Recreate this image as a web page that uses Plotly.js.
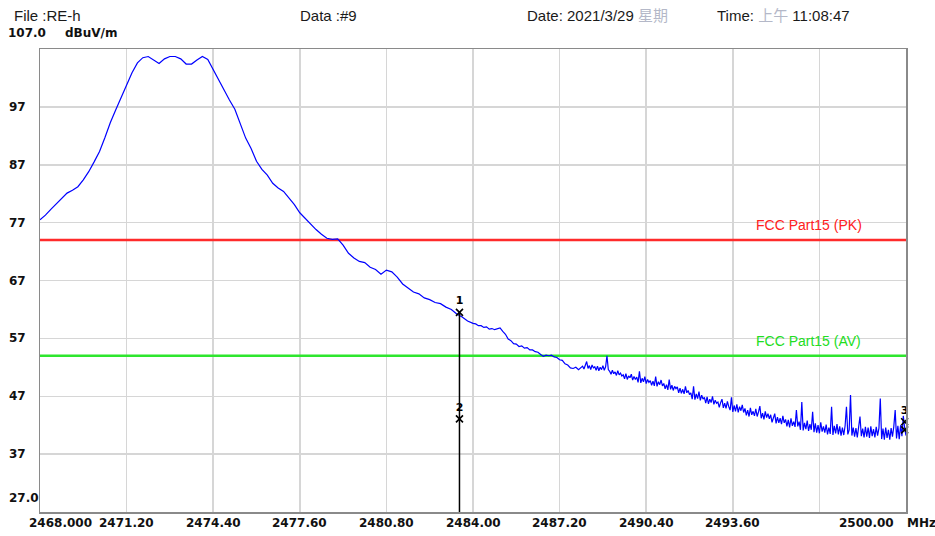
<!DOCTYPE html>
<html>
<head>
<meta charset="utf-8">
<script src="https://cdn.plot.ly/plotly-3.0.1.min.js"></script>
<style>html,body{margin:0;padding:0;background:#fff;}#chart{width:935px;height:536px;}</style>
</head>
<body>
<div id="chart"></div>
<script>
// ---- data ----
const freqMHz = [
2468.0,2468.2,2468.4,2468.6,2468.8,2469.0,2469.2,2469.4,2469.6,2469.8,
2470.0,2470.2,2470.4,2470.6,2470.8,2471.0,2471.2,2471.4,2471.6,2471.8,
2472.0,2472.2,2472.4,2472.6,2472.8,2473.0,2473.2,2473.4,2473.6,2473.8,
2474.0,2474.2,2474.4,2474.6,2474.8,2475.0,2475.2,2475.4,2475.6,2475.8,
2476.0,2476.2,2476.4,2476.6,2476.8,2477.0,2477.2,2477.4,2477.6,2477.8,
2478.0,2478.2,2478.4,2478.6,2478.8,2479.0,2479.2,2479.4,2479.6,2479.8,
2480.0,2480.2,2480.4,2480.6,2480.8,2481.0,2481.2,2481.4,2481.6,2481.8,
2482.0,2482.2,2482.4,2482.6,2482.8,2483.0,2483.2,2483.4,2483.6,2483.8,
2484.0,
2484.1,2484.2,2484.3,2484.4,2484.5,2484.6,2484.7,2484.8,2484.9,
2485.0,2485.1,2485.2,2485.3,2485.4,2485.5,2485.6,2485.7,2485.8,2485.9,
2486.0,2486.1,2486.2,2486.3,2486.4,2486.5,2486.6,2486.7,2486.8,2486.9,
2487.0,2487.1,2487.2,2487.3,2487.4,2487.5,2487.6,2487.7,2487.8,2487.9,
2488.0,
2488.05,2488.10,2488.15,2488.20,2488.25,2488.30,2488.35,2488.40,2488.45,2488.50,
2488.55,2488.60,2488.65,2488.70,2488.75,2488.80,2488.85,2488.90,2488.95,2489.00,
2489.05,2489.10,2489.15,2489.20,2489.25,2489.30,2489.35,2489.40,2489.45,2489.50,
2489.55,2489.60,2489.65,2489.70,2489.75,2489.80,2489.85,2489.90,2489.95,2490.00,
2490.05,2490.10,2490.15,2490.20,2490.25,2490.30,2490.35,2490.40,2490.45,2490.50,
2490.55,2490.60,2490.65,2490.70,2490.75,2490.80,2490.85,2490.90,2490.95,2491.00,
2491.05,2491.10,2491.15,2491.20,2491.25,2491.30,2491.35,2491.40,2491.45,2491.50,
2491.55,2491.60,2491.65,2491.70,2491.75,2491.80,2491.85,2491.90,2491.95,2492.00,
2492.05,2492.10,2492.15,2492.20,2492.25,2492.30,2492.35,2492.40,2492.45,2492.50,
2492.55,2492.60,2492.65,2492.70,2492.75,2492.80,2492.85,2492.90,2492.95,2493.00,
2493.05,2493.10,2493.15,2493.20,2493.25,2493.30,2493.35,2493.40,2493.45,2493.50,
2493.55,2493.60,2493.65,2493.70,2493.75,2493.80,2493.85,2493.90,2493.95,2494.00,
2494.05,2494.10,2494.15,2494.20,2494.25,2494.30,2494.35,2494.40,2494.45,2494.50,
2494.55,2494.60,2494.65,2494.70,2494.75,2494.80,2494.85,2494.90,2494.95,2495.00,
2495.05,2495.10,2495.15,2495.20,2495.25,2495.30,2495.35,2495.40,2495.45,2495.50,
2495.55,2495.60,2495.65,2495.70,2495.75,2495.80,2495.85,2495.90,2495.95,2496.00,
2496.05,2496.10,2496.15,2496.20,2496.25,2496.30,2496.35,2496.40,2496.45,2496.50,
2496.55,2496.60,2496.65,2496.70,2496.75,2496.80,2496.85,2496.90,2496.95,2497.00,
2497.05,2497.10,2497.15,2497.20,2497.25,2497.30,2497.35,2497.40,2497.45,2497.50,
2497.55,2497.60,2497.65,2497.70,2497.75,2497.80,2497.85,2497.90,2497.95,2498.00,
2498.05,2498.10,2498.15,2498.20,2498.25,2498.30,2498.35,2498.40,2498.45,2498.50,
2498.55,2498.60,2498.65,2498.70,2498.75,2498.80,2498.85,2498.90,2498.95,2499.00,
2499.05,2499.10,2499.15,2499.20,2499.25,2499.30,2499.35,2499.40,2499.45,2499.50,
2499.55,2499.60,2499.65,2499.70,2499.75,2499.80,2499.85,2499.90,2499.95,2500.00
];
const levelDBuV = [
77.5,78.3,79.3,80.2,81.2,82.1,82.6,83.2,84.4,85.8,
87.5,89.3,91.7,94.3,96.5,98.6,100.5,102.9,104.6,105.5,
105.7,105.1,104.5,105.3,105.7,105.7,105.3,104.4,104.4,105.1,
105.7,105.2,103.4,101.6,99.8,98.2,96.6,94.1,91.6,89.8,
87.6,86.2,85.2,83.8,83.0,82.4,81.3,80.1,78.7,77.7,
76.8,75.8,75.0,74.3,74.1,74.2,73.1,71.7,70.9,70.3,
70.1,69.3,68.9,68.1,68.8,68.5,67.6,66.4,65.7,65.0,
64.7,64.0,63.7,63.2,63.0,62.4,62.0,61.2,60.7,60.0,
59.6,
59.5,59.2,59.2,58.9,59.0,58.6,58.7,58.5,58.7,
58.8,58.2,57.7,56.9,56.6,56.1,56.0,55.6,55.7,55.3,
55.4,55.0,55.0,54.7,54.6,54.2,53.9,54.1,54.0,54.1,
53.8,53.7,53.3,53.2,52.6,52.4,51.9,51.8,52.0,51.6,
51.9,
52.2,51.7,52.5,53.0,51.8,52.3,51.6,52.4,51.9,52.1,
51.5,52.2,51.4,52.0,51.6,52.3,51.5,52.1,54.0,51.6,
51.3,50.8,51.5,50.9,51.2,50.6,51.4,50.7,51.0,50.5,
50.7,50.0,50.9,49.9,50.5,50.2,50.8,49.8,50.4,49.9,
50.3,49.4,51.3,49.3,50.1,49.5,50.4,49.2,49.9,49.4,
49.7,48.9,49.6,48.8,50.4,48.7,49.5,49.0,49.8,48.8,
49.2,48.3,49.0,48.1,49.9,48.2,48.9,48.0,48.7,48.3,
48.6,47.6,48.4,47.5,48.2,47.4,48.7,47.6,48.0,47.3,
47.6,46.5,48.7,46.4,47.4,46.6,47.8,46.3,47.2,46.5,
46.8,45.8,46.9,45.7,46.5,45.9,47.0,45.6,46.3,45.8,
46.0,45.1,45.9,46.5,45.0,45.8,44.9,46.1,45.2,44.6,
46.8,44.3,45.4,44.4,45.6,44.2,45.2,44.5,45.5,44.2,
44.9,43.7,44.6,43.5,45.0,43.8,44.4,43.6,44.8,43.5,
44.3,45.3,43.2,44.1,43.0,44.4,43.3,44.0,43.1,43.8,
42.5,43.5,44.0,42.3,43.4,42.4,43.2,42.2,43.6,42.4,
43.0,41.8,42.9,41.6,43.2,41.9,42.6,41.7,44.6,41.8,
42.6,41.2,46.0,41.1,42.4,41.3,42.8,41.0,42.2,41.2,
44.3,40.8,42.3,40.7,42.0,40.6,42.5,40.9,41.8,40.7,
42.1,40.4,41.6,40.5,45.2,40.3,41.9,40.6,42.2,40.4,
41.8,40.2,41.6,40.3,41.9,45.2,40.4,41.2,47.2,40.2,
41.6,40.0,41.5,39.9,41.8,43.5,40.1,41.4,39.9,41.7,
40.0,41.6,39.8,41.8,40.1,41.3,39.9,41.7,40.2,41.5,
46.6,39.6,41.4,39.5,41.6,39.8,41.2,39.5,41.5,40.0,
41.8,44.6,39.7,41.9,39.6,42.0,40.1,43.6,41.5,40.2
];
const limitPK = 74;
const limitAV = 54;
const limitNames = ["FCC Part15 (PK)", "FCC Part15 (AV)"];
const markerFreq = [2483.5, 2483.5, 2499.95, 2499.95];
const markerLevel = [61.5, 43.1, 42.6, 41.2];
const markerLabel = ["1", "2", "3", ""];
const xTickVals = [2468, 2471.2, 2474.4, 2477.6, 2480.8, 2484.0, 2487.2, 2490.4, 2493.6, 2496.8, 2500];
const xTickText = ["2468.000", "2471.20", "2474.40", "2477.60", "2480.80", "2484.00", "2487.20", "2490.40", "2493.60", "", "2500.00"];
const yTickVals = [37, 47, 57, 67, 77, 87, 97];
const yMin = 27, yMax = 107;
const header = {file: "File :RE-h", data: "Data :#9", date: "2021/3/29", weekday: "星期", ampm: "上午", time: "11:08:47"};
const unitY = "dBuV/m", unitX = "MHz";

// ---- chart ----
const lblFont = {family: "DejaVu Sans", size: 12, color: "#111"};
const hdrFont = {family: "Liberation Sans, Noto Sans CJK SC", size: 15, color: "#1a1a1a"};

const traces = [
  {x: [2468, 2500], y: [limitPK, limitPK], mode: "lines", line: {color: "#ff2b2b", width: 2.5}, hoverinfo: "skip"},
  {x: [2468, 2500], y: [limitAV, limitAV], mode: "lines", line: {color: "#2ee62e", width: 2.5}, hoverinfo: "skip"},
  {x: freqMHz, y: levelDBuV, mode: "lines", line: {color: "#0000ff", width: 1.2}},
  {x: [markerFreq[0], markerFreq[0]], y: [markerLevel[0], yMin], mode: "lines", line: {color: "#000", width: 1.5}, hoverinfo: "skip"},
  {x: markerFreq, y: markerLevel, mode: "markers+text", text: markerLabel, textposition: "top center", cliponaxis: false,
   textfont: {family: "DejaVu Sans", size: 11, color: "#000", weight: "bold"},
   marker: {symbol: "x-thin-open", size: 7, color: "#000", line: {width: 1.6, color: "#000"}}}
];

const ann = [];
// y tick labels (left aligned like the reference)
yTickVals.forEach(v => ann.push({xref: "paper", yref: "y", x: 0, y: v, xanchor: "left", yanchor: "middle", xshift: -33,
  text: "<b>" + v + "</b>", showarrow: false, font: lblFont}));
ann.push({xref: "paper", yref: "y", x: 0, y: yMax, xanchor: "left", yanchor: "middle", xshift: -34, yshift: 16,
  text: "<b>" + yMax.toFixed(1) + "</b>", showarrow: false, font: lblFont});
ann.push({xref: "paper", yref: "y", x: 0, y: yMax, xanchor: "left", yanchor: "middle", xshift: 23, yshift: 16,
  text: "<b>" + unitY + "</b>", showarrow: false, font: lblFont});
ann.push({xref: "paper", yref: "y", x: 0, y: yMin, xanchor: "left", yanchor: "middle", xshift: -33, yshift: 14,
  text: "<b>" + yMin.toFixed(1) + "</b>", showarrow: false, font: lblFont});
// x tick labels
xTickVals.forEach((v, i) => {
  if (!xTickText[i]) return;
  let xa = "center", xs = 0;
  if (i === 0) { xa = "left"; xs = -13; }
  if (i === xTickVals.length - 1) { xa = "right"; xs = -10; }
  ann.push({xref: "x", yref: "paper", x: v, y: 0, xanchor: xa, yanchor: "middle", xshift: xs, yshift: -11,
    text: "<b>" + xTickText[i] + "</b>", showarrow: false, font: lblFont});
});
ann.push({xref: "x", yref: "paper", x: 2500, y: 0, xanchor: "left", yanchor: "middle", xshift: -1, yshift: -11,
  text: "<b>" + unitX + "</b>", showarrow: false, font: lblFont});
// limit labels
ann.push({xref: "x", yref: "y", x: 2496.4, y: limitPK, yshift: 15, xanchor: "center", yanchor: "middle",
  text: limitNames[0], showarrow: false, font: {family: "Liberation Sans", size: 14, color: "#ff2020"}});
ann.push({xref: "x", yref: "y", x: 2496.4, y: limitAV, yshift: 15, xanchor: "center", yanchor: "middle",
  text: limitNames[1], showarrow: false, font: {family: "Liberation Sans", size: 14, color: "#22dd22"}});
// header
const hdr = [
  [header.file, -28],
  [header.data, 258],
  ["Date: " + header.date + ' <span style="color:#b4b8c8">' + header.weekday + "</span>", 485],
  ["Time: " + '<span style="color:#b4b8c8">' + header.ampm + "</span> " + header.time, 675]
];
hdr.forEach(h => ann.push({xref: "paper", yref: "paper", x: 0, y: 1, xanchor: "left", yanchor: "middle",
  xshift: h[1], yshift: 34, text: h[0], showarrow: false, font: hdrFont}));

const layout = {
  width: 935, height: 536,
  margin: {l: 40, r: 29, t: 49, b: 24, pad: 0},
  paper_bgcolor: "#fff", plot_bgcolor: "#fff",
  showlegend: false,
  xaxis: {range: [2468, 2500], tickvals: xTickVals, showticklabels: false, ticks: "",
    showgrid: true, gridcolor: "#d6d6d6", gridwidth: 1.5, zeroline: false,
    showline: true, mirror: true, linecolor: "#8a8a8a", linewidth: 1.5},
  yaxis: {range: [yMin, yMax], tickvals: yTickVals.concat([yMax]), showticklabels: false, ticks: "",
    showgrid: true, gridcolor: "#d6d6d6", gridwidth: 1.5, zeroline: false,
    showline: true, mirror: true, linecolor: "#8a8a8a", linewidth: 1.5},
  annotations: ann
};

Plotly.newPlot("chart", traces, layout, {displayModeBar: false, staticPlot: true});
</script>
</body>
</html>
